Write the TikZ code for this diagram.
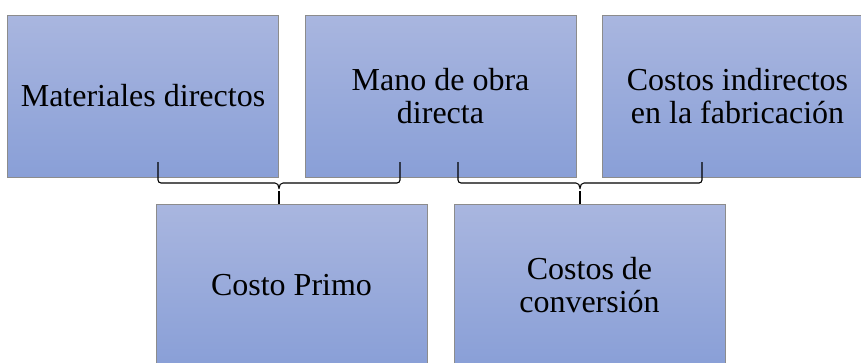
\documentclass[tikz,border=0pt]{standalone}
\usepackage{fontspec}
\setmainfont{Liberation Serif}
\usetikzlibrary{calc}
\definecolor{boxtop}{HTML}{A9B6DF}
\definecolor{boxbot}{HTML}{899FD7}
\definecolor{boxline}{HTML}{8C8C8C}
\tikzset{
  costbox/.style={rectangle,draw=boxline,line width=0.8pt,top color=boxtop,bottom color=boxbot,
    minimum width=271pt,minimum height=162pt,inner sep=0pt,align=center,
    font=\fontsize{32}{33}\selectfont},
  cbrace/.style={draw=black,line width=1.1pt,rounded corners=3pt}
}
\begin{document}
\begin{tikzpicture}[x=1pt,y=-1pt]
\useasboundingbox (0,0) rectangle (861,362);
\clip (0,0) rectangle (861,362);

\node[costbox] (mat) at (143,96) {Materiales directos};
\node[costbox] (mano) at (440.5,96) {Mano de obra\\directa};
\node[costbox] (cif) at (737.5,96) {Costos indirectos\\en la fabricación};

\node[costbox] (primo) at (291.5,285) {Costo Primo};
\node[costbox] (conv) at (589.5,285) {Costos de\\conversión};

%%%% llaves
\coordinate (pb1) at (158,162);
\coordinate (pb2) at (400,162);
\coordinate (pbt) at (279,204);
\coordinate (cb1) at (458,162);
\coordinate (cb2) at (702,162);
\coordinate (cbt) at (580,204);

\draw[cbrace] (pb1) |- ($(pbt)+(-7,-21)$) .. controls ($(pbt)+(-2,-21)$) and ($(pbt)+(0,-19)$) .. ($(pbt)+(0,-13)$) .. controls ($(pbt)+(0,-19)$) and ($(pbt)+(2,-21)$) .. ($(pbt)+(7,-21)$) -| (pb2);
\draw[cbrace,line width=1.6pt] ($(pbt)+(0,-13)$) -- (pbt);
%%%%%%%%
\draw[cbrace] (cb1) |- ($(cbt)+(-7,-21)$) .. controls ($(cbt)+(-2,-21)$) and ($(cbt)+(0,-19)$) .. ($(cbt)+(0,-13)$) .. controls ($(cbt)+(0,-19)$) and ($(cbt)+(2,-21)$) .. ($(cbt)+(7,-21)$) -| (cb2);
\draw[cbrace,line width=1.6pt] ($(cbt)+(0,-13)$) -- (cbt);
\end{tikzpicture}
\end{document}
